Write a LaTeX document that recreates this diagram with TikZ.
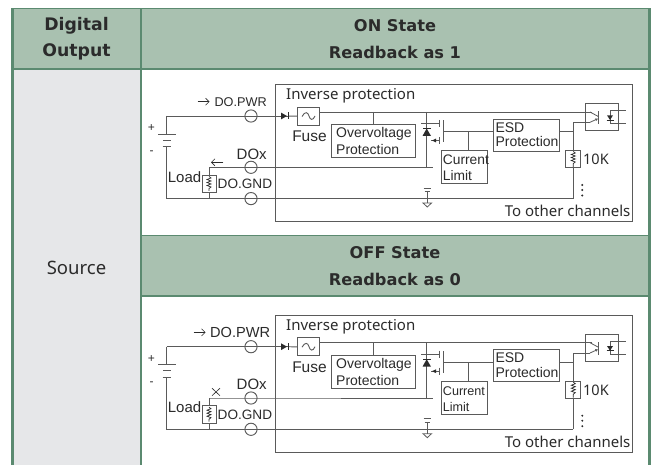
\documentclass[tikz,border=0pt]{standalone}
\usepackage{fontspec}
\setmainfont{Liberation Sans}
\newfontfamily\headfont{DejaVu Sans}
\newfontfamily\tahfont{Noto Sans}
\usetikzlibrary{arrows.meta}
\definecolor{hfill}{HTML}{A9C1B0}
\definecolor{hline}{HTML}{5B8A70}
\definecolor{sfill}{HTML}{E6E7E9}
\definecolor{wire}{HTML}{5A5A5A}
\definecolor{ink}{HTML}{2B2B2B}
\newcommand{\fsz}[1]{\fontsize{#1}{#1}\selectfont}
\tikzset{
  wir/.style={draw=wire,line width=0.95pt},
  cbox/.style={draw=wire,line width=0.95pt,fill=white,inner sep=0pt,rectangle},
  term/.style={draw=wire,line width=0.95pt,circle,inner sep=0pt,minimum size=12.2pt},
  lab/.style={inner sep=0pt,text=ink,font=\fsz{14}},
  thead/.style={inner sep=0pt,text=ink,font=\headfont\bfseries\fsz{16.2}},
  celltext/.style={inner sep=0pt,text=ink,font=\tahfont\fsz{18.5}},
  thin arrow/.style={draw=ink,line width=0.6pt,-{Straight Barb[length=3.5pt,width=7pt]}},
  grid/.style={draw=hline,line width=1.3pt},
  gridthick/.style={draw=hline,line width=2.2pt},
}
% #1 prefix, #2 y offset, #3 DO.PWR size, #4 DO.PWR left, #5 arrow dx, #6 Current Limit size, #7 marker
\newcommand{\circuitpart}[7]{%
\begin{scope}[yshift=#2]
  \node[cbox,minimum width=357pt,minimum height=137pt,anchor=north west] (#1frame) at (275,84) {};
  \node[lab,font=\tahfont\fsz{15},anchor=west] (#1inv) at (286,96) {Inverse protection};
  \coordinate (#1bp) at (166.7,116);
  \coordinate (#1bn) at (166.7,147);
  \node[term] (#1tp) at (251,116) {};
  \node[term] (#1tx) at (251,167.3) {};
  \node[term] (#1tg) at (251,198.6) {};
  \coordinate (#1txc) at (251,167.3);
  \coordinate (#1tgc) at (251,198.6);
  \node[cbox,minimum width=22pt,minimum height=18pt] (#1fuse) at (308.6,116.2) {};
  \draw[wire,line width=0.9pt] (302,116.5) .. controls (305,111) and (308,112) .. (309,116) .. controls (310,120) and (313,121) .. (315,116);
  \coordinate (#1dio) at (288,116);
  \draw[wir] (#1bp) -- (#1dio);
  \draw[wir] (288,116) -- (#1fuse.west);
  \fill[ink] (281,112.6) -- (287,116) -- (281,119.4) -- cycle;
  \draw[ink,line width=1pt] (288,112.5) -- (288,119.5);
  \draw[wir] (#1bp) -- (166.7,134);
  \draw[wir] (158,134) -- (176,134) (163,140) -- (171,140) (162.7,146.7) -- (171,146.7);
  \draw[wir] (#1bn) -- (166.7,198.6) -- (#1tgc);
  \node[lab,font=\fsz{12},anchor=center] (#1plus) at (151.5,128) {+};
  \node[lab,font=\fsz{12},anchor=center] (#1minus) at (151.7,153) {-};
  \node[cbox,minimum width=84pt,minimum height=33pt] (#1ovp) at (373.6,140.8) {};
  \node[lab,anchor=west] (#1ovt) at (336,134) {Overvoltage};
  \node[lab,anchor=west] (#1ovb) at (336,149.3) {Protection};
  \coordinate (#1opto) at (592,112);
  \draw[wir] (#1fuse.east |- 0,112) -- (#1opto);
  \draw[wir] (373,112) -- (#1ovp.north -| 373,0);
  \node[lab,font=\fsz{15.5},anchor=center] (#1fl) at (309.5,136.7) {Fuse};
  \node[lab,font=\fsz{#3},anchor=west] (#1pwr) at (#4,101.7) {DO.PWR};
  \draw[thin arrow] (197.5,101.7) ++(#5,0) -- ++(12,0);
  \node[lab,font=\fsz{15},anchor=center] (#1dox) at (251.7,154) {DOx};
  \node[lab,font=\fsz{13.6},anchor=west] (#1gnd) at (217.5,184.3) {DO.GND};
  \node[lab,font=\fsz{15},anchor=west] (#1load) at (167.7,176.7) {Load};
  \draw[wir] (209,167.3) -- (#1txc) -- (432.7,167.3);
  \draw[wir] (209,167.3) -- (209,198.6);
  \draw[wir] (#1tgc) -- (573.3,198.6);
  \node[cbox,minimum width=14.5pt,minimum height=17.5pt] (#1loadbox) at (209.3,183.8) {};
  \draw[ink,line width=0.7pt] (209,176.5) -- (211,178) -- (207,179.5) -- (211,181) -- (207,182.5) -- (211,184) -- (207,185.5) -- (211,187) -- (209,188.5) -- (209,191);
  % protection diode and MOSFET
  \draw[wir] (426.7,112) -- (426.7,167.3);
  \draw[wir] (421,123.3) -- (439,123.3);
  \fill[ink] (426.7,128.5) -- (422.5,136) -- (431,136) -- cycle;
  \draw[ink,line width=0.9pt] (423,128.5) -- (431,128.5);
  \draw[wir] (443.3,120.5) -- (443.3,142);
  \draw[wir] (439,120) -- (439,127) (439,137) -- (439,144);
  \draw[wir] (431,140.5) -- (439,140.5);
  \fill[ink] (432,140.5) -- (436,138.6) -- (436,142.4) -- cycle;
  \node[cbox,minimum width=65.7pt,minimum height=32pt] (#1esd) at (526.2,135) {};
  \node[lab,anchor=west] (#1est) at (495.3,127.3) {ESD};
  \node[lab,anchor=west] (#1esb) at (495.3,141.7) {Protection};
  \node[cbox,minimum width=46.7pt,minimum height=32.6pt] (#1cl) at (464.4,167) {};
  \node[lab,font=\fsz{#6},anchor=west] (#1clt) at (442.7,160) {Current};
  \node[lab,font=\fsz{#6},anchor=west] (#1clb) at (442.7,176) {Limit};
  \draw[wir] (443.3,131.8) -- (#1esd.west |- 0,131.8);
  \draw[wir] (468.3,131.8) -- (468.3,150.7);
  \draw[wir] (#1esd.east |- 0,131.8) -- (573.3,131.8);
  \draw[wir] (573.3,122.3) -- (573.3,198.6);
  \node[cbox,minimum width=14.7pt,minimum height=17pt] (#1res) at (573.3,159.2) {};
  \draw[ink,line width=0.7pt] (573.3,151.5) -- (575.3,153) -- (571.3,154.5) -- (575.3,156) -- (571.3,157.5) -- (575.3,159) -- (571.3,160.5) -- (575.3,162) -- (573.3,163.5) -- (573.3,167);
  \node[lab,font=\tahfont\fsz{14.5},anchor=west] (#1tenk) at (583,159.5) {10K};
  \fill[ink] (582.3,185) circle (1.1pt) (582.3,190) circle (1.1pt) (582.3,195.5) circle (1.1pt);
  % ground
  \draw[wir] (423.7,188) -- (430.7,188) (424.5,191.6) -- (430,191.6);
  \draw[wir] (427.3,191.6) -- (427.3,203);
  \draw[wire,line width=0.8pt] (423,203) -- (431.5,203) -- (427.3,207) -- cycle;
  \node[lab,font=\tahfont\fsz{15},anchor=east] (#1other) at (630.5,211) {To other channels};
  % optocoupler
  \node[cbox,fill=none,minimum width=33pt,minimum height=27pt] (#1ocp) at (602.2,116.8) {};
  \draw[wir] (#1opto) -- (585.7,112);
  \draw[wir] (573.3,122.3) -- (590,122.3);
  \draw[wire,line width=0.8pt] (590,112) -- (598.3,116.5);
  \draw[wire,line width=0.8pt,-{Latex[length=3pt,width=3pt]}] (590,122.3) -- (598.3,118.5);
  \draw[wir] (598.3,111.5) -- (598.3,124.5);
  \draw[wir] (610,110.8) -- (610,124.2) ;
  \draw[wir] (610,110.8) -- (625.7,110.8) (610,123.3) -- (625.7,123.3);
  \fill[ink] (607,115.3) -- (613,115.3) -- (610,120) -- cycle;
  \draw[ink,line width=0.8pt] (606.5,120) -- (613.5,120);
  #7
\end{scope}}
\begin{document}
\begin{tikzpicture}[x=1pt,y=-1pt]
\useasboundingbox (0,0) rectangle (651,465);
\fill[white] (0,0) rectangle (651,465);
\fill[sfill] (13,69) rectangle (141,465);
\fill[hfill] (13,9) rectangle (649,69);
\fill[hfill] (141,235.5) rectangle (649,296);
\draw[grid] (11.5,8.3) -- (650.5,8.3);
\draw[grid] (13,69) -- (649,69);
\draw[grid] (141,235.5) -- (649,235.5);
\draw[grid] (141,296) -- (649,296);
\draw[grid] (141,8.3) -- (141,465);
\draw[gridthick] (12.5,8.3) -- (12.5,465);
\draw[gridthick] (649.5,8.3) -- (649.5,465);
\node[thead,font=\headfont\bfseries\fsz{17.3}] (hdo1) at (76.5,26) {Digital};
\node[thead,font=\headfont\bfseries\fsz{17.3}] (hdo2) at (76.5,52) {Output};
\node[thead] (hon1) at (395,26) {ON State};
\node[thead] (hon2) at (395,52) {Readback as 1};
\node[thead] (hoff1) at (395,253) {OFF State};
\node[thead] (hoff2) at (395,279) {Readback as 0};
\node[celltext] (src) at (76.5,268) {Source};
\circuitpart{a}{0pt}{12.7}{214.3}{0}{13.8}{\draw[thin arrow] (223.3,162.3) -- (211,162.3);}
\circuitpart{b}{-230.7pt}{14.6}{210}{-4}{12.6}{\draw[ink,line width=0.6pt] (212,157.5) -- (220,165) (220,157.5) -- (212,165);}
\end{tikzpicture}
\end{document}
